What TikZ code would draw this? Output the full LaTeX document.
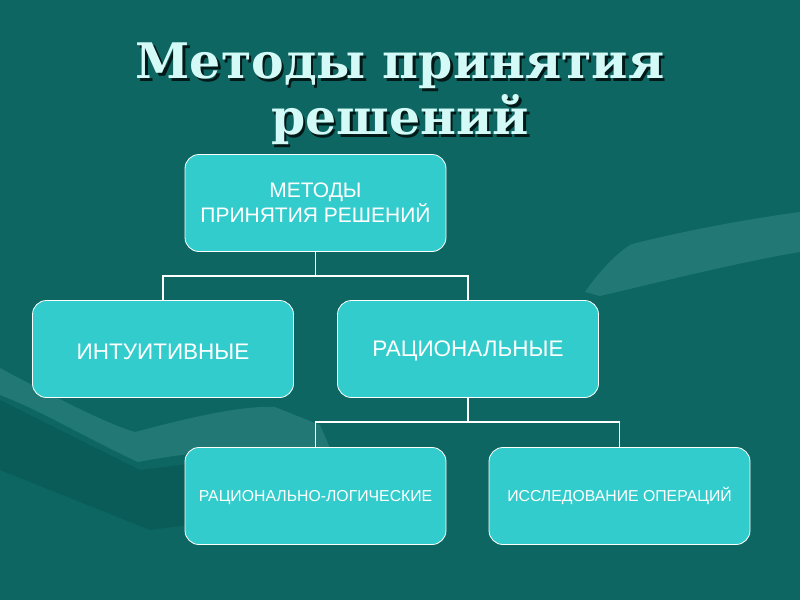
\documentclass[tikz,border=0pt]{standalone}
\usepackage{fontspec}
\setmainfont{DejaVu Serif}
\newfontfamily\boxfont{Liberation Sans}
\begin{document}
\begin{tikzpicture}[x=1pt,y=-1pt,
  bg/.style={fill=bgteal},
  mbox/.style={draw=white, line width=0.8pt, fill=boxcyan, rounded corners=14pt,
    minimum width=261pt, minimum height=97pt, align=center, text=white,
    inner sep=0pt},
  toptxt/.style={font=\boxfont\fontsize{21}{25}\selectfont},
  bigtxt/.style={font=\boxfont\fontsize{22.5}{25}\selectfont},
  smalltxt/.style={font=\boxfont\fontsize{15.8}{18}\selectfont},
  conn/.style={draw=white, line width=1.2pt},
  ttl/.style={font=\fontsize{49}{56}\selectfont\bfseries, align=center}
]
\definecolor{bgteal}{HTML}{0D6662}
\definecolor{boxcyan}{HTML}{33CCCC}
\definecolor{titlec}{HTML}{D4FAF8}
\definecolor{swooshcol}{HTML}{217874}
\definecolor{darkcol}{HTML}{0A5C58}
\useasboundingbox (0,0) rectangle (800,600);
\fill[bg] (0,0) rectangle (800,600);
% faint background shapes
\fill[darkcol] (0,400) -- (140,470) -- (300,450) -- (360,470) -- (300,510)
  -- (150,530) -- (0,470) -- cycle;
\fill[swooshcol] (0,368) .. controls (60,400) and (110,425) .. (135,432)
  .. controls (180,420) and (240,405) .. (275,407) -- (320,425) -- (330,448)
  .. controls (260,445) and (190,452) .. (138,462) .. controls (90,440) and (40,410) .. (0,395) -- cycle;
\fill[swooshcol] (585,292) .. controls (600,270) and (620,250) .. (632,244)
  .. controls (680,232) and (740,220) .. (800,212) -- (800,252)
  .. controls (740,262) and (660,282) .. (600,296) -- cycle;
% title
\node[ttl, text=black!75!bgteal] at (402.5,96.5) {Методы принятия\\решений};
\node[ttl, text=titlec] (title) at (400,94) {Методы принятия\\решений};
% boxes
\node[mbox, toptxt] (top) at (315.5,203) {МЕТОДЫ\\ПРИНЯТИЯ РЕШЕНИЙ};
\node[mbox, bigtxt] (intu) at (163,349) {ИНТУИТИВНЫЕ\vphantom{Й}};
\node[mbox, bigtxt] (rat) at (468,349) {РАЦИОНАЛЬНЫЕ\vphantom{Й}};
\node[mbox, smalltxt] (logic) at (315.5,496) {РАЦИОНАЛЬНО-ЛОГИЧЕСКИЕ\vphantom{Й}};
\node[mbox, smalltxt] (oper) at (619.5,496) {ИССЛЕДОВАНИЕ ОПЕРАЦИЙ};
% connectors
\coordinate (j1) at (316,276);
\coordinate (j2) at (469,422);
\draw[conn] (top.south) -- (top.south |- j1);
\draw[conn] (intu.north) |- (j1) -| (rat.north);
\draw[conn] (rat.south) -- (rat.south |- j2);
\draw[conn] (logic.north) |- (j2) -| (oper.north);
\end{tikzpicture}
\end{document}
